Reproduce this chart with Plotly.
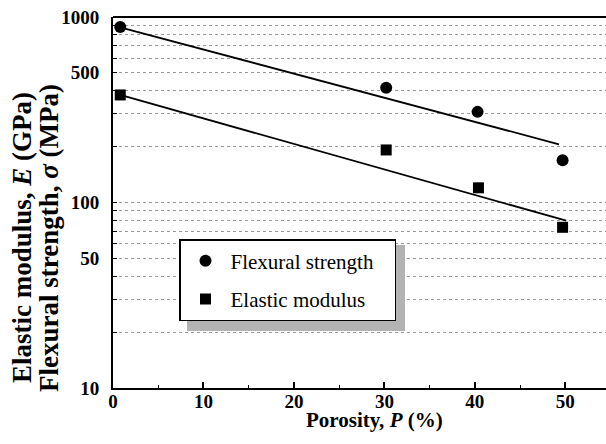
import plotly.graph_objects as go

# ---- data ----
porosity_flex = [0.8, 30.2, 40.3, 49.7]
flexural_strength = [883, 415, 308, 169]
porosity_elastic = [0.8, 30.2, 40.4, 49.7]
elastic_modulus = [380, 192, 120, 73.5]

# fitted (exponential) trend lines, endpoints
fit_x_flex = [0.8, 49.3]
fit_y_flex = [880, 206]
fit_x_elastic = [0.8, 50.1]
fit_y_elastic = [380, 79.8]

y_grid_vals = [10, 20, 30, 40, 50, 60, 70, 80, 90, 100, 200, 300, 400, 500,
               600, 700, 800, 900, 1000]
y_labels = {10: "10", 50: "50", 100: "100", 500: "500", 1000: "1000"}
x_tick_vals = [0, 10, 20, 30, 40, 50]

SERIF = "Liberation Serif"
NBSP = "\u00a0"

# layout geometry (pixels)
W, H = 606, 444
ML, MR, MT, MB = 113, 0, 17, 56
PW, PH = W - ML - MR, H - MT - MB


def px2x(px):
    return (px - ML) / PW


def px2y(py):
    return (H - MB - py) / PH


fig = go.Figure()

fig.add_trace(go.Scatter(x=fit_x_flex, y=fit_y_flex, mode="lines",
                         line=dict(color="black", width=1.8), showlegend=False,
                         hoverinfo="skip"))
fig.add_trace(go.Scatter(x=fit_x_elastic, y=fit_y_elastic, mode="lines",
                         line=dict(color="black", width=1.8), showlegend=False,
                         hoverinfo="skip"))
fig.add_trace(go.Scatter(x=porosity_flex, y=flexural_strength, mode="markers",
                         name="Flexural strength" + NBSP * 3, legendgroup="a",
                         marker=dict(symbol="circle", size=12, color="black")))
fig.add_trace(go.Scatter(x=porosity_elastic, y=elastic_modulus, mode="markers",
                         name="Elastic modulus", legendgroup="b",
                         marker=dict(symbol="square", size=11, color="black")))

fig.update_layout(
    width=W, height=H,
    margin=dict(l=ML, r=MR, t=MT, b=MB),
    paper_bgcolor="white", plot_bgcolor="white",
    showlegend=True,
    legend=dict(
        x=px2x(179), y=px2y(239), xanchor="left", yanchor="top",
        bgcolor="white", bordercolor="black", borderwidth=1.5,
        font=dict(family=SERIF, size=21, color="black"),
        tracegroupgap=8, itemwidth=40,
    ),
    xaxis=dict(
        range=[0, 54.5], showgrid=False, zeroline=False,
        showline=True, linecolor="black", linewidth=2,
        tickmode="array", tickvals=x_tick_vals,
        ticks="inside", ticklen=6, tickwidth=1.5, tickcolor="black",
        minor=dict(ticks="inside", ticklen=3, tickwidth=1.2, dtick=5,
                   tickcolor="black", showgrid=False),
        ticklabelstandoff=-5,
        tickfont=dict(family=SERIF, size=19, color="black", weight="bold"),
    ),
    yaxis=dict(
        type="log", range=[1, 3], zeroline=False,
        showline=True, linecolor="black", linewidth=2,
        tickmode="array", tickvals=y_grid_vals,
        ticktext=[y_labels.get(v, "") for v in y_grid_vals],
        ticks="inside", ticklen=4, tickwidth=1, tickcolor="black",
        showgrid=True, gridcolor="#9a9a9a", gridwidth=1, griddash="dot",
        ticklabelstandoff=8,
        tickfont=dict(family=SERIF, size=19, color="black", weight="bold"),
    ),
    shapes=[
        # top frame line
        dict(type="line", xref="paper", yref="paper", x0=0, x1=1, y0=1, y1=1,
             line=dict(color="black", width=2)),
        # legend shadow
        dict(type="rect", xref="paper", yref="paper",
             x0=px2x(187), x1=px2x(405), y0=px2y(331), y1=px2y(245),
             fillcolor="#b3b3b3", line=dict(width=0), layer="above"),
    ],
    annotations=[
        dict(text="Elastic modulus, <i>E</i> (GPa)", textangle=-90,
             xref="paper", yref="paper", x=px2x(22), y=px2y(238),
             xanchor="center", yanchor="middle", showarrow=False,
             font=dict(family=SERIF, size=27, color="black", weight="bold")),
        dict(text="Flexural strength, <i>σ</i> (MPa)", textangle=-90,
             xref="paper", yref="paper", x=px2x(49), y=px2y(238),
             xanchor="center", yanchor="middle", showarrow=False,
             font=dict(family=SERIF, size=27, color="black", weight="bold")),
        dict(text="Porosity, <i>P</i> (%)",
             xref="paper", yref="paper", x=px2x(374), y=px2y(420),
             xanchor="center", yanchor="middle", showarrow=False,
             font=dict(family=SERIF, size=21, color="black", weight="bold")),
    ],
)

fig.write_html("out.html")
